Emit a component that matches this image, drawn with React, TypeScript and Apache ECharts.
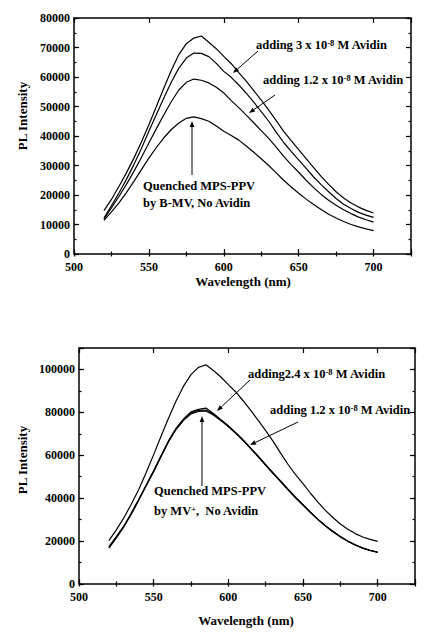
import React, { useEffect, useRef } from "react";
import * as echarts from "echarts";

// ---------- data ----------
const wavelengths = [520, 525, 530, 535, 540, 545, 550, 555, 560, 565, 570, 575, 580, 585, 590, 595, 600, 605, 610, 615, 620, 625, 630, 635, 640, 645, 650, 655, 660, 665, 670, 675, 680, 685, 690, 695, 700];

// top panel (MPS-PPV quenched by B-MV, then avidin added)
const topAvidin3 = [14700, 18500, 22900, 27500, 32500, 38000, 43800, 50000, 56300, 62300, 67600, 71300, 73200, 73900, 71800, 69600, 67000, 64500, 61500, 58600, 55400, 52200, 48800, 45200, 41600, 38400, 35400, 32300, 29300, 26300, 23600, 21100, 19000, 17300, 15900, 14800, 13900];
const topAvidinMid = [12200, 16300, 20700, 25300, 30300, 35800, 41600, 47300, 52900, 58300, 63000, 66400, 68100, 68000, 66900, 64600, 61900, 59900, 57300, 54500, 51500, 48300, 45000, 41300, 37800, 34800, 31900, 29000, 26100, 23500, 21100, 18800, 16900, 15400, 14100, 13200, 12400];
const topAvidin12 = [11900, 15600, 19500, 23600, 28000, 32700, 37600, 42500, 47200, 51700, 55600, 58200, 59300, 58900, 58000, 56500, 54600, 52000, 49600, 47100, 44500, 41800, 39200, 36200, 33100, 30300, 27700, 25000, 22500, 20200, 18200, 16500, 15000, 13700, 12500, 11600, 10800];
const topQuenched = [11400, 14300, 17300, 20800, 24600, 28600, 32500, 36100, 39400, 42200, 44400, 46000, 46500, 45900, 45000, 43400, 41600, 40200, 38600, 36600, 34500, 32300, 30000, 27500, 25000, 22700, 20600, 18600, 16800, 15100, 13500, 12200, 11000, 10000, 9200, 8500, 7900];

// bottom panel (MPS-PPV quenched by MV+, then avidin added)
const botUpper = [20200, 25200, 30800, 37200, 44000, 52000, 60300, 69000, 77400, 85300, 92200, 97600, 101000, 102200, 99500, 96500, 92900, 89500, 85300, 80900, 76300, 71500, 66500, 61000, 55700, 51000, 46800, 42300, 38200, 34300, 31000, 28000, 25500, 23500, 21900, 20800, 19900];
const botAvidin24 = [16900, 21700, 26800, 32800, 39300, 46100, 52800, 59900, 66800, 72600, 76900, 80200, 81400, 82000, 79500, 76600, 73800, 70500, 67100, 63300, 59600, 55600, 51800, 48000, 44200, 40500, 37000, 33500, 30200, 27200, 24600, 22100, 20000, 18300, 16800, 15700, 14900];
const botAvidin12 = [16700, 21500, 26600, 32500, 39000, 45800, 52400, 59500, 66500, 72300, 76600, 79700, 80900, 81100, 79100, 76300, 73500, 70300, 66900, 63200, 59400, 55500, 51600, 47800, 44000, 40300, 36900, 33400, 30100, 27100, 24500, 22000, 19900, 18200, 16700, 15600, 14800];
const botQuenched = [17400, 22100, 27000, 33000, 39400, 46000, 52500, 59500, 66400, 72000, 76300, 79300, 80400, 80600, 78800, 76200, 73400, 70200, 66800, 63100, 59300, 55300, 51500, 47700, 43900, 40200, 36800, 33300, 30000, 27000, 24400, 22000, 19900, 18200, 16700, 15600, 14700];

const xMin = 500;
const xMax = 725;
const xMajor = 50;
const xMinor = 25;
const topYMax = 80000;
const topYMajor = 10000;
const topYMinor = 5000;
const botYMax = 110000;
const botYMajor = 20000;
const botYMinor = 10000;

const FONT = "Liberation Serif, DejaVu Serif, serif";

function pairs(vals: number[]) {
  return wavelengths.map((w, i) => [w, vals[i]]);
}

function axisSet(g: number, yMax: number, yMajor: number, yMinor: number) {
  const lineStyle = { color: "#000", width: 1.5 };
  const label = {
    color: "#000",
    fontFamily: FONT,
    fontWeight: "bold" as const,
    fontSize: 12,
    lineHeight: 12,
  };
  const xs: any[] = [];
  const ys: any[] = [];
  (["bottom", "top"] as const).forEach((pos) => {
    xs.push({
      type: "value", gridIndex: g, position: pos, min: xMin, max: xMax, interval: xMajor,
      axisLine: { show: true, onZero: false, lineStyle },
      axisTick: { show: true, inside: true, length: 5, lineStyle: { color: "#000", width: 1.2 } },
      axisLabel: pos === "bottom" ? {
        ...label, margin: 7,
        formatter: (v: number) => (v % xMajor === 0 && v <= 700 ? String(v) : ""),
      } : { show: false },
      splitLine: { show: false },
    });
    xs.push({
      type: "value", gridIndex: g, position: pos, min: xMin, max: xMax, interval: xMinor,
      axisLine: { show: false },
      axisTick: { show: true, inside: true, length: 2.5, lineStyle: { color: "#000", width: 1.2 } },
      axisLabel: { show: false },
      splitLine: { show: false },
    });
  });
  (["left", "right"] as const).forEach((pos) => {
    ys.push({
      type: "value", gridIndex: g, position: pos, min: 0, max: yMax, interval: yMajor,
      axisLine: { show: true, onZero: false, lineStyle },
      axisTick: { show: true, inside: true, length: 5, lineStyle: { color: "#000", width: 1.2 } },
      axisLabel: pos === "left" ? {
        ...label, margin: 4, lineHeight: 10,
        formatter: (v: number) => (v % yMajor === 0 ? String(v) : ""),
      } : { show: false },
      splitLine: { show: false },
    });
    ys.push({
      type: "value", gridIndex: g, position: pos, min: 0, max: yMax, interval: yMinor,
      axisLine: { show: false },
      axisTick: { show: true, inside: true, length: 2.5, lineStyle: { color: "#000", width: 1.2 } },
      axisLabel: { show: false },
      splitLine: { show: false },
    });
  });
  return { xs, ys };
}

function line(name: string, g: number, vals: number[]) {
  return {
    type: "line", name, xAxisIndex: g * 4, yAxisIndex: g * 4,
    data: pairs(vals), showSymbol: false, smooth: false,
    lineStyle: { color: "#000", width: 1.2 }, silent: true,
  };
}

function arrow(x1: number, y1: number, x2: number, y2: number) {
  const dx = x2 - x1, dy = y2 - y1;
  const len = Math.sqrt(dx * dx + dy * dy);
  const ux = dx / len, uy = dy / len;
  const hl = 6, hw = 2.3;
  const bx = x2 - ux * hl, by = y2 - uy * hl;
  return [
    { type: "line", shape: { x1, y1, x2: bx, y2: by }, style: { stroke: "#000", lineWidth: 1 } },
    {
      type: "polygon",
      shape: { points: [[x2, y2], [bx - uy * hw, by + ux * hw], [bx + uy * hw, by - ux * hw]] },
      style: { fill: "#000" },
    },
  ];
}

const rich = {
  n: { fontSize: 12.5, fontWeight: "bold", fontFamily: FONT, fill: "#000", lineHeight: 14 },
  s: { fontSize: 8.5, fontWeight: "bold", fontFamily: FONT, fill: "#000", verticalAlign: "top", lineHeight: 14 },
};

function txt(text: string, x: number, y: number, align = "left", size = 12.5, rotation = 0) {
  return {
    type: "text", x, y, rotation,
    style: {
      text, align, verticalAlign: "middle",
      fontFamily: FONT, fontWeight: "bold", fontSize: size,
      fill: "#000", lineHeight: 14, rich,
    },
  };
}

export default function App() {
  const ref = useRef<HTMLDivElement>(null);
  useEffect(() => {
    if (!ref.current) return;
    const chart = echarts.init(ref.current, undefined, { renderer: "svg" });
    const a = axisSet(0, topYMax, topYMajor, topYMinor);
    const b = axisSet(1, botYMax, botYMajor, botYMinor);
    chart.setOption({
      animation: false,
      backgroundColor: "#fff",
      grid: [
        { left: 74, top: 18, width: 337, height: 236 },
        { left: 79, top: 348, width: 336, height: 236 },
      ],
      xAxis: [...a.xs, ...b.xs],
      yAxis: [...a.ys, ...b.ys],
      series: [
        line("adding 3 x 10-8 M Avidin", 0, topAvidin3),
        line("adding (intermediate)", 0, topAvidinMid),
        line("adding 1.2 x 10-8 M Avidin", 0, topAvidin12),
        line("Quenched MPS-PPV by B-MV", 0, topQuenched),
        line("upper", 1, botUpper),
        line("adding2.4 x 10-8 M Avidin", 1, botAvidin24),
        line("adding 1.2 x 10-8 M Avidin", 1, botAvidin12),
        line("Quenched MPS-PPV by MV+", 1, botQuenched),
      ],
      graphic: [
        txt("{n|adding 3 x 10}{s|-8}{n| M Avidin}", 256, 45),
        txt("{n|adding 1.2 x 10}{s|-8}{n| M Avidin}", 263, 80),
        txt("Quenched MPS-PPV", 143, 186),
        txt("by B-MV, No Avidin", 143, 203),
        ...arrow(258, 51, 233, 73),
        ...arrow(275, 95, 249, 113),
        ...arrow(192, 175, 192, 121),
        txt("PL Intensity", 22, 116, "center", 13, Math.PI / 2),
        txt("Wavelength (nm)", 243, 281, "center", 13),

        txt("{n|adding2.4 x 10}{s|-8}{n| M Avidin}", 248, 374),
        txt("{n|adding 1.2 x 10}{s|-8}{n| M Avidin}", 270, 410),
        txt("Quenched MPS-PPV", 154, 491),
        txt("{n|by MV}{s|+}{n|,  No Avidin}", 154, 511),
        ...arrow(250, 380, 217, 411),
        ...arrow(298, 422, 250, 445),
        ...arrow(202, 486, 202, 416),
        txt("PL Intensity", 22, 460, "center", 13, Math.PI / 2),
        txt("Wavelength (nm)", 246, 620, "center", 13),
      ],
    });
    return () => chart.dispose();
  }, []);
  return (
    <div
      ref={ref}
      style={{ position: "fixed", left: 0, top: 0, width: 426, height: 638, background: "#fff" }}
    />
  );
}
